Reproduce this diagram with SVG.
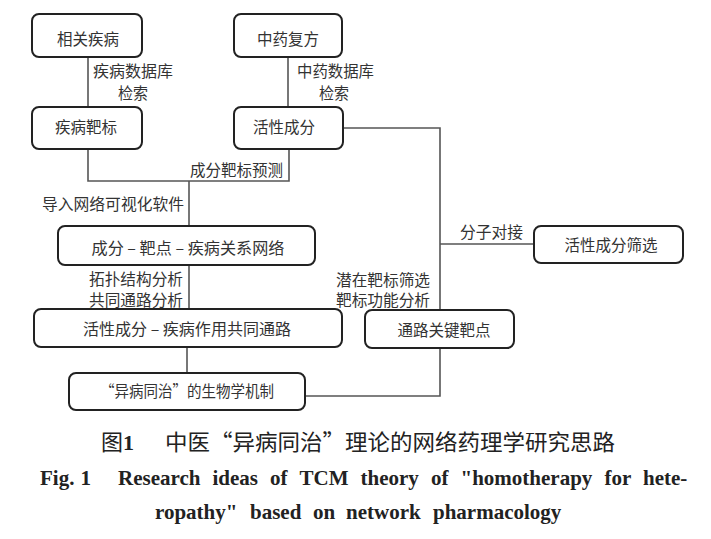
<svg xmlns="http://www.w3.org/2000/svg" width="711" height="539" viewBox="0 0 711 539">
<style>
.box{fill:#fff;stroke:#222;stroke-width:2}
.ln{fill:none;stroke:#555;stroke-width:1.6}
.t{font-family:"Noto Sans CJK SC","Noto Sans",sans-serif;font-size:15.5px;fill:#333;text-anchor:middle}
.lb{font-family:"Noto Sans CJK SC","Noto Sans",sans-serif;font-size:15.5px;fill:#333}
.cap{font-family:"Noto Sans CJK SC","Noto Sans",sans-serif;font-size:22px;fill:#222}
.en{font-family:"Liberation Serif","Times New Roman",serif;font-weight:bold;font-size:21px;fill:#222}
</style>
<rect width="711" height="539" fill="#fff"/>
<g id="connectors">
<path class="ln" d="M88,57V107"/>
<path class="ln" d="M288,57V107"/>
<path class="ln" d="M88,149V181H289V149"/>
<path class="ln" d="M189,181V226"/>
<path class="ln" d="M189,265V309"/>
<path class="ln" d="M187,347V373"/>
<path class="ln" d="M343,128H440V396H305"/>
<path class="ln" d="M440,244H534"/>
<text class="lb" x="93" y="77" textLength="80" lengthAdjust="spacingAndGlyphs">疾病数据库</text>
<text class="lb" x="118" y="99" textLength="30" lengthAdjust="spacingAndGlyphs">检索</text>
<text class="lb" x="297" y="77" textLength="77" lengthAdjust="spacingAndGlyphs">中药数据库</text>
<text class="lb" x="319" y="99" textLength="30" lengthAdjust="spacingAndGlyphs">检索</text>
<text class="lb" x="190" y="175.5" textLength="93" lengthAdjust="spacingAndGlyphs">成分靶标预测</text>
<text class="lb" x="42" y="209.5" textLength="142" lengthAdjust="spacingAndGlyphs">导入网络可视化软件</text>
<text class="lb" x="89" y="284.5" textLength="94" lengthAdjust="spacingAndGlyphs">拓扑结构分析</text>
<text class="lb" x="89" y="305.5" textLength="94" lengthAdjust="spacingAndGlyphs">共同通路分析</text>
<text class="lb" x="460" y="237.5" textLength="63" lengthAdjust="spacingAndGlyphs">分子对接</text>
<text class="lb" x="336" y="285.5" textLength="94" lengthAdjust="spacingAndGlyphs">潜在靶标筛选</text>
<text class="lb" x="336" y="305.5" textLength="94" lengthAdjust="spacingAndGlyphs">靶标功能分析</text>
</g>
<g id="n1"><rect class="box" x="32" y="14" width="110" height="43" rx="7"/><text class="t" x="88" y="45">相关疾病</text></g>
<g id="n2"><rect class="box" x="234" y="14" width="108" height="43" rx="7"/><text class="t" x="288" y="45">中药复方</text></g>
<g id="n3"><rect class="box" x="32" y="107" width="110" height="42" rx="7"/><text class="t" x="86" y="133">疾病靶标</text></g>
<g id="n4"><rect class="box" x="234" y="107" width="109" height="42" rx="7"/><text class="t" x="284" y="133">活性成分</text></g>
<g id="n5"><rect class="box" x="58" y="226" width="257" height="39" rx="7"/><text class="t" x="188" y="253.5" textLength="193" lengthAdjust="spacingAndGlyphs">成分 – 靶点 – 疾病关系网络</text></g>
<g id="n6"><rect class="box" x="34" y="309" width="308" height="38" rx="7"/><text class="t" x="187" y="334.5" textLength="208" lengthAdjust="spacingAndGlyphs">活性成分 – 疾病作用共同通路</text></g>
<g id="n7"><rect class="box" x="69" y="373" width="236" height="37" rx="7"/><text class="t" x="187" y="396.5" textLength="174" lengthAdjust="spacingAndGlyphs">“异病同治”的生物学机制</text></g>
<g id="n8"><rect class="box" x="534" y="226" width="149" height="37" rx="7"/><text class="t" x="611" y="250.5">活性成分筛选</text></g>
<g id="n9"><rect class="box" x="365" y="310" width="149" height="38" rx="7"/><text class="t" x="444" y="335.5">通路关键靶点</text></g>
<g id="caption">
<text class="cap" x="101" y="450">图<tspan font-family="Liberation Serif,serif" font-weight="bold">1</tspan></text>
<text class="cap" x="165" y="450" textLength="450" lengthAdjust="spacingAndGlyphs">中医“异病同治”理论的网络药理学研究思路</text>
<text class="en" x="40" y="485">Fig.</text>
<text class="en" x="80.5" y="485">1</text>
<text class="en" x="118" y="485">Research</text>
<text class="en" x="212.5" y="485">ideas</text>
<text class="en" x="270" y="485">of</text>
<text class="en" x="299.5" y="485">TCM</text>
<text class="en" x="360.5" y="485">theory</text>
<text class="en" x="431" y="485">of</text>
<text class="en" x="460.5" y="485">"homotherapy</text>
<text class="en" x="604.5" y="485">for</text>
<text class="en" x="643" y="485">hete-</text>
<text class="en" x="155" y="519">ropathy"</text>
<text class="en" x="250" y="519">based</text>
<text class="en" x="313" y="519">on</text>
<text class="en" x="346" y="519">network</text>
<text class="en" x="433" y="519">pharmacology</text>
</g>
</svg>
